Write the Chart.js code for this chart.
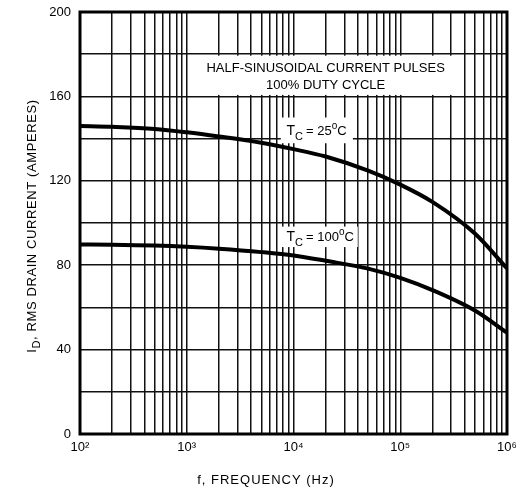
<!DOCTYPE html>
<html><head><meta charset="utf-8">
<script src="https://cdn.jsdelivr.net/npm/chart.js@4"></script>
<style>html,body{margin:0;padding:0;background:#fff}#wrap{width:518px;height:487px}</style>
</head><body><div id="wrap"><canvas id="c" width="518" height="487"></canvas></div>
<script>
// ---- data ----
const frequencies  = [100, 200, 500, 1000, 2000, 5000, 10000, 20000, 50000, 100000, 200000, 500000, 1000000];
const current25C   = [146, 145.6, 144.6, 143, 141, 138, 135, 131.5, 124.8, 118.2, 110, 95, 78.5];
const current100C  = [89.8, 89.7, 89.3, 88.7, 87.8, 86.2, 84.6, 82.1, 78.4, 74, 68.2, 58.5, 48];
const xDecades     = [100, 1000, 10000, 100000, 1000000];
const xTickLabels  = ['10²', '10³', '10⁴', '10⁵', '10⁶'];
const yLabelValues = [0, 40, 80, 120, 160, 200];
const headingLines = ['HALF-SINUSOIDAL CURRENT PULSES', '100% DUTY CYCLE'];
const seriesLabels = ['25', '100'];
const xTitle = 'f, FREQUENCY (Hz)';
const yTitleParts = ['I', 'D', ', RMS DRAIN CURRENT (AMPERES)'];

// grid values for the log axis (1..9 per decade)
const xGridValues = [];
xDecades.forEach((d, i) => {
  if (i === xDecades.length - 1) { xGridValues.push(d); return; }
  for (let m = 1; m <= 9; m++) xGridValues.push(d * m);
});

const FONT = '"Liberation Sans", Arial, sans-serif';

function drawRich(ctx, segs, x, y, align) {
  let total = 0;
  segs.forEach(s => { ctx.font = s.size + 'px ' + FONT; total += ctx.measureText(s.text).width + (s.gap || 0); });
  let cx = align === 'center' ? x - total / 2 : x;
  ctx.textAlign = 'left';
  ctx.textBaseline = 'alphabetic';
  segs.forEach(s => {
    ctx.font = s.size + 'px ' + FONT;
    ctx.fillText(s.text, cx, y + (s.dy || 0));
    cx += ctx.measureText(s.text).width + (s.gap || 0);
  });
  return total;
}

function box(ctx, xs, ys, f1, f2, v1, v2) {
  const x1 = xs.getPixelForValue(f1), x2 = xs.getPixelForValue(f2);
  const y1 = ys.getPixelForValue(v1), y2 = ys.getPixelForValue(v2);
  ctx.fillRect(x1, y1, x2 - x1, y2 - y1);
}

const annotationPlugin = {
  id: 'annot',
  beforeDatasetsDraw(chart) {
    const ctx = chart.ctx, xs = chart.scales.x, ys = chart.scales.y;
    ctx.save();
    ctx.fillStyle = '#fff';
    box(ctx, xs, ys, 1030, 390000, 179.3, 160.7);   // heading
    box(ctx, xs, ys, 7600, 36000, 150, 137.8);      // Tc = 25
    box(ctx, xs, ys, 7600, 40000, 98.3, 88.6);      // Tc = 100

    ctx.fillStyle = '#000';
    const cx = xs.getPixelForValue(20000);
    ctx.font = '13px ' + FONT;
    ctx.textAlign = 'center';
    ctx.textBaseline = 'alphabetic';
    ctx.fillText(headingLines[0], cx, ys.getPixelForValue(171.8));
    ctx.fillText(headingLines[1], cx, ys.getPixelForValue(163.3));

    const tx = xs.getPixelForValue(8600);
    [[seriesLabels[0], 141.5], [seriesLabels[1], 91.5]].forEach(([t, v]) => {
      const by = ys.getPixelForValue(v);
      drawRich(ctx, [
        {text: 'T', size: 14},
        {text: 'C', size: 11, dy: 5, gap: 3},
        {text: '= ' + t, size: 13},
        {text: 'o', size: 10, dy: -6},
        {text: 'C', size: 13}
      ], tx, by, 'left');
    });
    ctx.restore();
  },
  afterDraw(chart) {
    const ctx = chart.ctx, a = chart.chartArea;
    ctx.save();
    ctx.strokeStyle = '#000';
    ctx.lineWidth = 3;
    ctx.strokeRect(a.left, a.top, a.right - a.left, a.bottom - a.top);
    ctx.fillStyle = '#000';
    // x title
    ctx.letterSpacing = '1px';
    ctx.font = '13px ' + FONT;
    ctx.textAlign = 'center';
    ctx.textBaseline = 'alphabetic';
    ctx.fillText(xTitle, 266, 484);
    // y title (rotated)
    ctx.letterSpacing = '0.6px';
    ctx.translate(36, 226);
    ctx.rotate(-Math.PI / 2);
    drawRich(ctx, [
      {text: yTitleParts[0], size: 13},
      {text: yTitleParts[1], size: 11, dy: 4},
      {text: yTitleParts[2], size: 13}
    ], 0, 0, 'center');
    ctx.restore();
  }
};

new Chart(document.getElementById('c'), {
  type: 'line',
  data: {
    datasets: [
      {label: 'TC = 25°C', data: frequencies.map((f, i) => ({x: f, y: current25C[i]})),
       borderColor: '#000', borderWidth: 4, pointRadius: 0, cubicInterpolationMode: 'monotone', fill: false},
      {label: 'TC = 100°C', data: frequencies.map((f, i) => ({x: f, y: current100C[i]})),
       borderColor: '#000', borderWidth: 4, pointRadius: 0, cubicInterpolationMode: 'monotone', fill: false}
    ]
  },
  options: {
    responsive: false,
    animation: false,
    layout: {padding: {top: 12, right: 11, left: 0, bottom: 0}},
    plugins: {legend: {display: false}, tooltip: {enabled: false}},
    scales: {
      x: {
        type: 'logarithmic', min: 100, max: 1000000,
        afterBuildTicks: s => { s.ticks = xGridValues.map(v => ({value: v})); },
        afterFit: s => { s.height = 53; s.paddingLeft = 0; s.paddingRight = 0; },
        ticks: {
          autoSkip: false, maxRotation: 0, minRotation: 0, padding: 6, color: '#000',
          font: {family: FONT, size: 13},
          callback: v => { const i = xDecades.indexOf(v); return i >= 0 ? xTickLabels[i] : ''; }
        },
        grid: {color: '#111', lineWidth: 1.5, drawTicks: false},
        border: {display: false}
      },
      y: {
        min: 0, max: 200,
        afterFit: s => { s.width = 80; s.paddingTop = 0; s.paddingBottom = 0; },
        ticks: {
          stepSize: 20, autoSkip: false, padding: 9, color: '#000',
          font: {family: FONT, size: 13},
          callback: v => yLabelValues.includes(v) ? String(v) : ''
        },
        grid: {color: '#111', lineWidth: 1.5, drawTicks: false},
        border: {display: false}
      }
    }
  },
  plugins: [annotationPlugin]
});
</script>
</body></html>
